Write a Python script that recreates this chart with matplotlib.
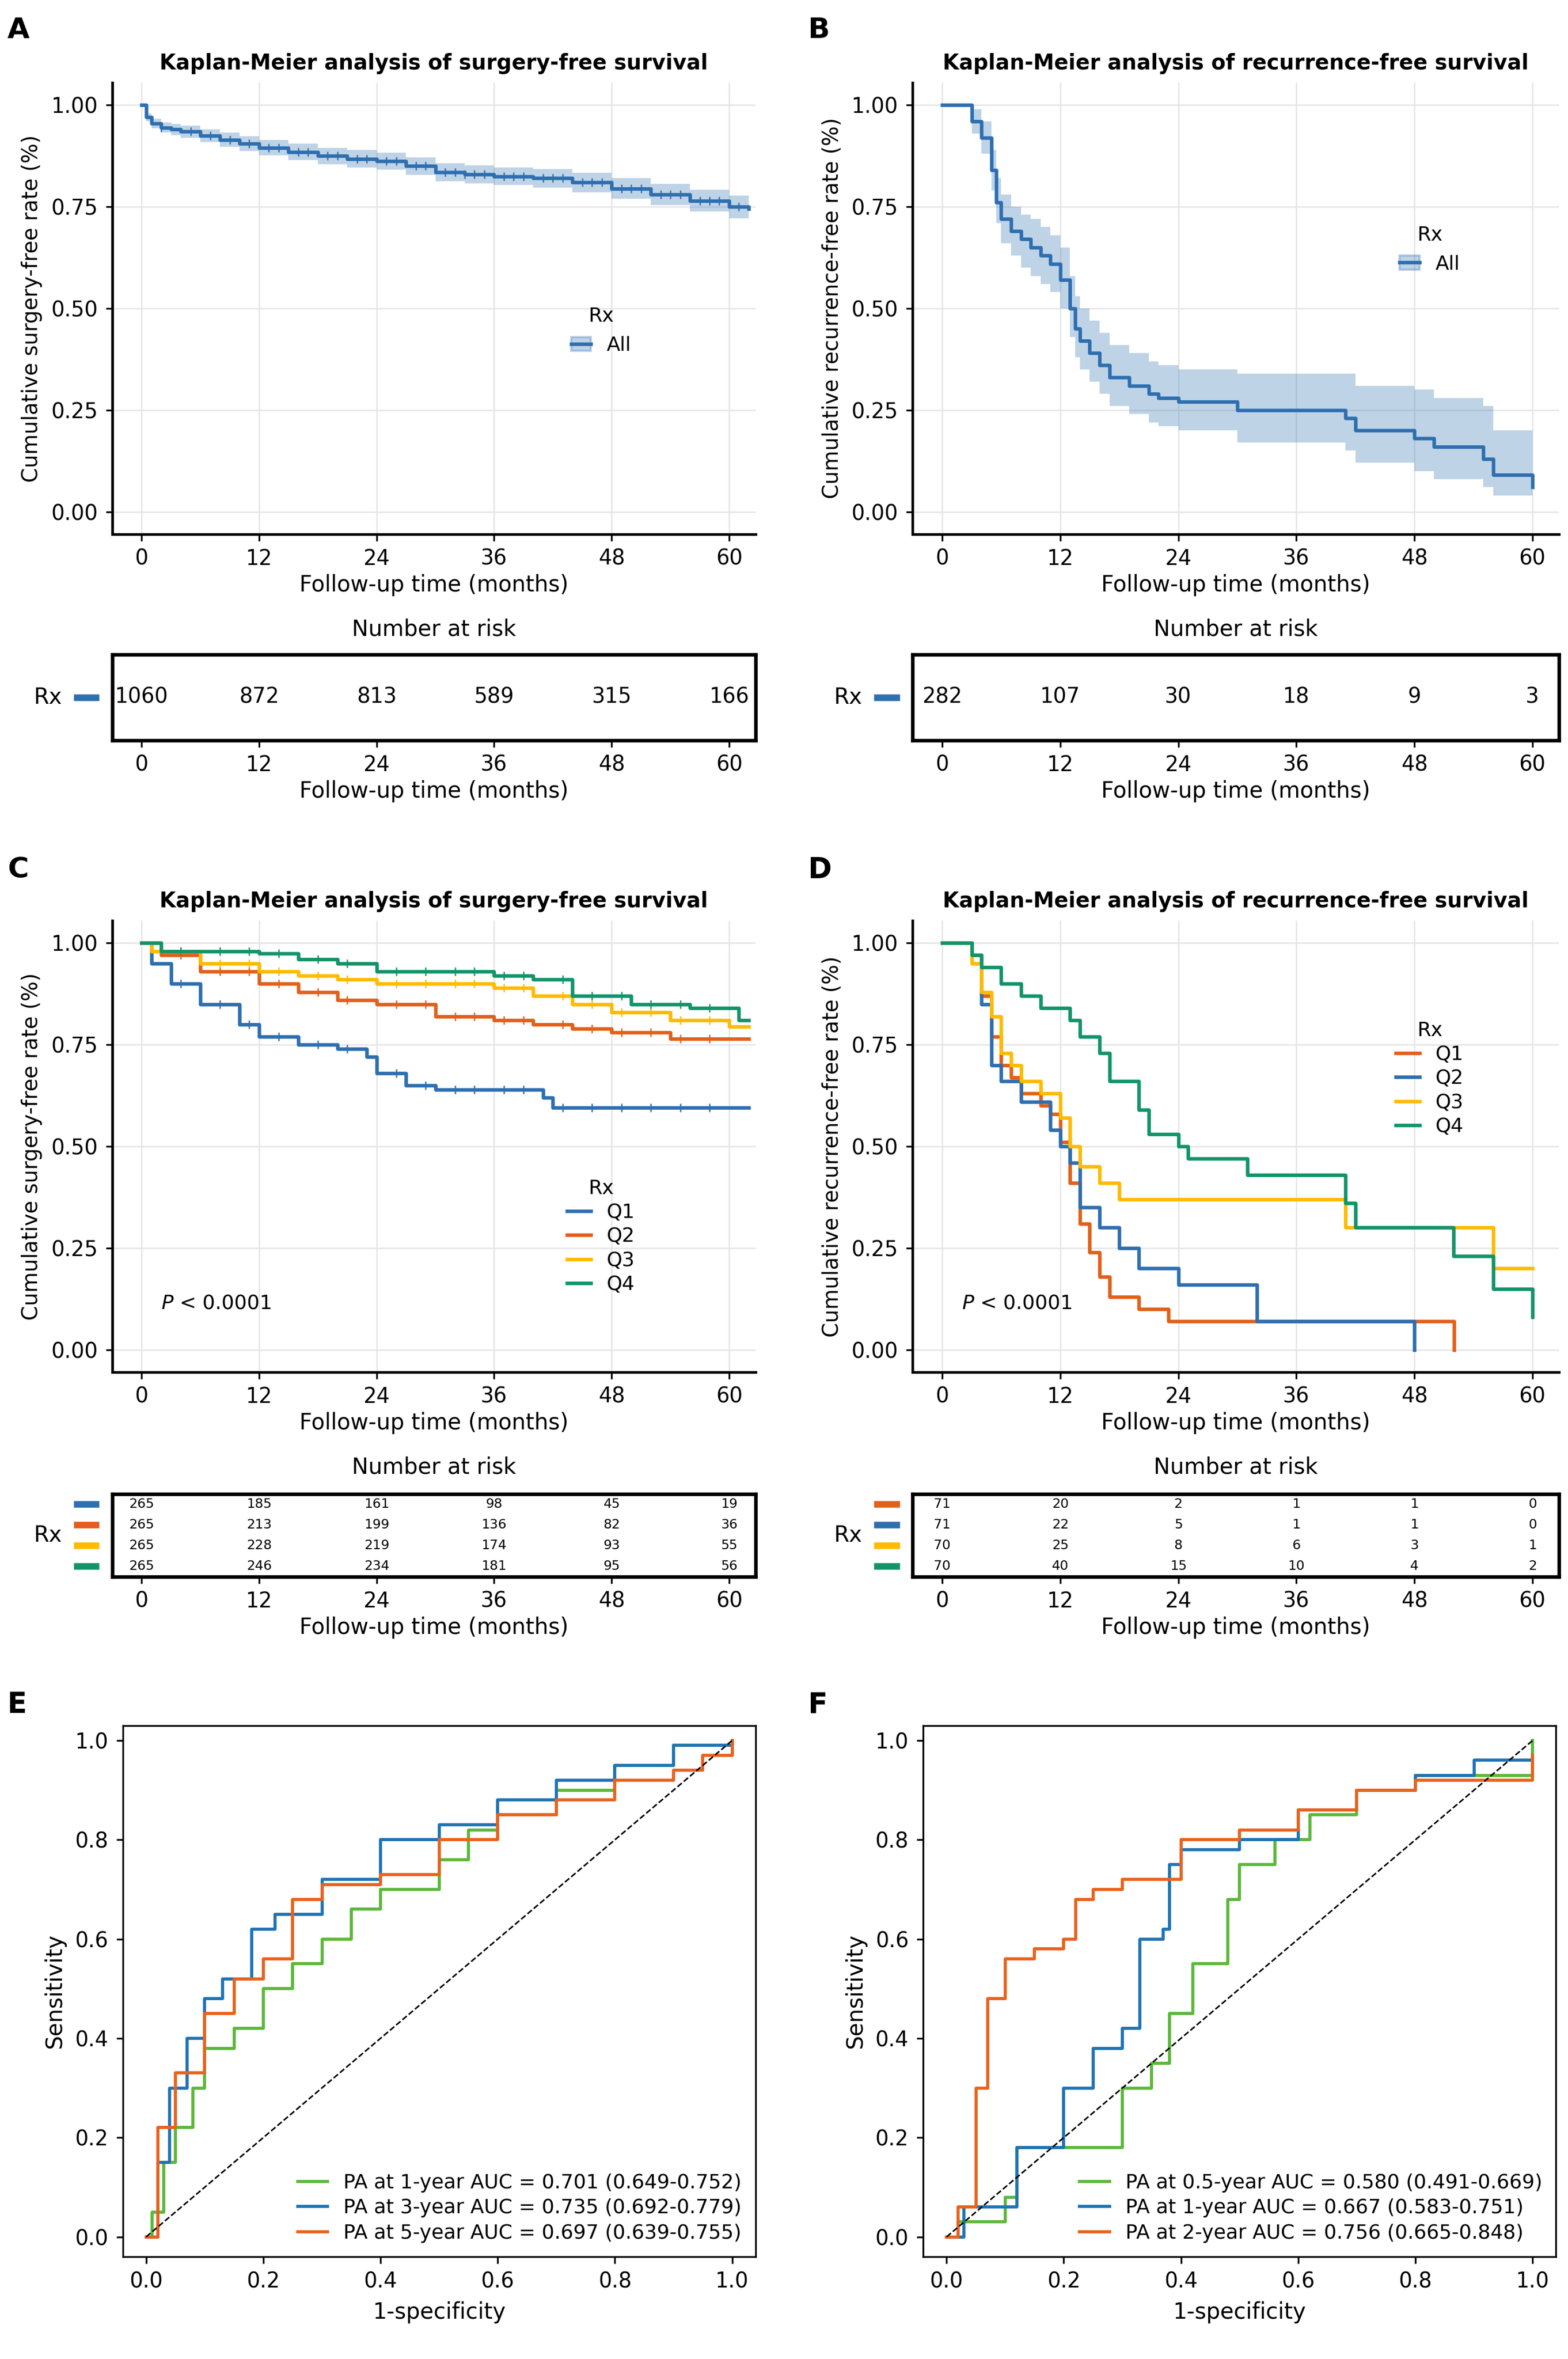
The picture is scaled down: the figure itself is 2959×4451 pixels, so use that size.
import numpy as np
import matplotlib
matplotlib.use("Agg")
import matplotlib.pyplot as plt
from matplotlib.patches import Patch
from matplotlib.lines import Line2D

plt.rcParams["font.family"] = ["DejaVu Sans"]
plt.rcParams["font.size"] = 8

BLUE = "#2e6fb0"
ORANGE = "#e2601a"
YELLOW = "#ffbb00"
GREEN = "#12946a"
ROC_GREEN = "#5cb83c"
ROC_BLUE = "#1f74b4"
ROC_ORANGE = "#ea621c"

# ---- data ----
a_t = [0, 0.5, 1, 2, 3, 4, 6, 8, 10, 12, 15, 18, 21, 24, 27, 30, 33, 36, 40, 44, 48, 52, 56, 60, 62]
a_s = [1, 0.97, 0.955, 0.945, 0.94, 0.935, 0.925, 0.915, 0.905, 0.895, 0.885, 0.875, 0.868, 0.862,
       0.85, 0.835, 0.83, 0.825, 0.82, 0.81, 0.795, 0.78, 0.765, 0.75, 0.745]
a_ci = [0, 0.01, 0.012, 0.013, 0.014, 0.015, 0.016, 0.017, 0.018, 0.019, 0.02, 0.02, 0.021, 0.021,
        0.022, 0.022, 0.022, 0.022, 0.023, 0.024, 0.025, 0.026, 0.027, 0.028, 0.028]
a_cens = [2, 5, 7, 9, 11, 13, 14, 16, 17, 19, 20, 22, 23, 25, 26, 28, 29, 31, 32, 33, 34, 35, 37, 38,
          39, 41, 42, 43, 45, 46, 47, 49, 50, 51, 53, 54, 55, 57, 58, 59, 61]

b_t = [0, 3, 4, 5, 5.5, 6, 7, 8, 9, 10, 11, 12, 13, 13.5, 14, 15, 16, 17, 19, 21, 22, 24, 30, 41, 42, 48, 50, 55, 56, 60]
b_s = [1.0, 0.96, 0.92, 0.84, 0.76, 0.72, 0.69, 0.67, 0.65, 0.63, 0.61, 0.57, 0.50, 0.45, 0.42, 0.39,
       0.36, 0.33, 0.31, 0.29, 0.28, 0.27, 0.25, 0.23, 0.20, 0.18, 0.16, 0.13, 0.09, 0.06]
b_lo = [1.0, 0.93, 0.88, 0.79, 0.71, 0.66, 0.63, 0.60, 0.58, 0.56, 0.54, 0.50, 0.43, 0.38, 0.35, 0.32,
        0.29, 0.26, 0.24, 0.22, 0.21, 0.20, 0.17, 0.15, 0.12, 0.10, 0.08, 0.06, 0.04, 0.03]
b_hi = [1.0, 0.99, 0.96, 0.89, 0.82, 0.78, 0.75, 0.73, 0.72, 0.70, 0.68, 0.65, 0.58, 0.53, 0.50, 0.47,
        0.44, 0.41, 0.39, 0.37, 0.36, 0.35, 0.34, 0.34, 0.31, 0.30, 0.28, 0.26, 0.20, 0.19]

c_curves = {
    "Q1": ([0, 1, 3, 6, 10, 12, 16, 20, 23, 24, 27, 30, 41, 42, 62],
           [1, 0.95, 0.90, 0.85, 0.80, 0.77, 0.75, 0.74, 0.72, 0.68, 0.65, 0.64, 0.62, 0.595, 0.595]),
    "Q2": ([0, 2, 6, 12, 16, 20, 24, 30, 36, 40, 44, 48, 54, 62],
           [1, 0.97, 0.93, 0.90, 0.88, 0.86, 0.85, 0.82, 0.81, 0.80, 0.79, 0.78, 0.765, 0.765]),
    "Q3": ([0, 1, 6, 12, 16, 20, 24, 36, 40, 44, 48, 54, 60, 62],
           [1, 0.98, 0.95, 0.93, 0.92, 0.91, 0.90, 0.89, 0.87, 0.85, 0.83, 0.81, 0.795, 0.795]),
    "Q4": ([0, 2, 12, 16, 20, 24, 36, 40, 44, 50, 56, 61, 62],
           [1, 0.98, 0.975, 0.96, 0.95, 0.93, 0.92, 0.91, 0.87, 0.85, 0.84, 0.81, 0.81]),
}
c_cens = [4, 8, 11, 14, 18, 21, 26, 29, 32, 34, 37, 39, 43, 46, 49, 52, 55, 58]

d_curves = {
    "Q1": ([0, 3, 4, 5, 6, 7, 8, 10, 11, 12, 13, 14, 15, 16, 17, 20, 23, 52, 52.01],
           [1, 0.97, 0.87, 0.77, 0.70, 0.67, 0.63, 0.60, 0.58, 0.51, 0.41, 0.31, 0.24, 0.18, 0.13, 0.10, 0.07, 0.07, 0.0]),
    "Q2": ([0, 3, 4, 5, 6, 8, 11, 12, 13, 14, 16, 18, 20, 24, 32, 48, 48.01],
           [1, 0.97, 0.85, 0.70, 0.66, 0.61, 0.54, 0.50, 0.46, 0.35, 0.30, 0.25, 0.20, 0.16, 0.07, 0.07, 0.0]),
    "Q3": ([0, 3, 4, 5, 6, 7, 8, 10, 12, 13, 14, 16, 18, 41, 56, 60],
           [1, 0.95, 0.88, 0.82, 0.73, 0.70, 0.66, 0.63, 0.57, 0.50, 0.45, 0.41, 0.37, 0.30, 0.20, 0.20]),
    "Q4": ([0, 3, 4, 6, 8, 10, 13, 14, 16, 17, 20, 21, 24, 25, 31, 41, 42, 52, 56, 60],
           [1, 0.97, 0.94, 0.90, 0.87, 0.84, 0.81, 0.77, 0.73, 0.66, 0.59, 0.53, 0.50, 0.47, 0.43, 0.36, 0.30, 0.23, 0.15, 0.08]),
}

c_colors = {"Q1": BLUE, "Q2": ORANGE, "Q3": YELLOW, "Q4": GREEN}
d_colors = {"Q1": ORANGE, "Q2": BLUE, "Q3": YELLOW, "Q4": GREEN}

risk_times = [0, 12, 24, 36, 48, 60]
a_risk = [1060, 872, 813, 589, 315, 166]
b_risk = [282, 107, 30, 18, 9, 3]
c_risk = [[265, 185, 161, 98, 45, 19], [265, 213, 199, 136, 82, 36],
          [265, 228, 219, 174, 93, 55], [265, 246, 234, 181, 95, 56]]
d_risk = [[71, 20, 2, 1, 1, 0], [71, 22, 5, 1, 1, 0],
          [70, 25, 8, 6, 3, 1], [70, 40, 15, 10, 4, 2]]

e_roc = [
    ("PA at 1-year AUC = 0.701 (0.649-0.752)", ROC_GREEN,
     [0, 0.01, 0.03, 0.05, 0.08, 0.1, 0.15, 0.2, 0.25, 0.3, 0.35, 0.4, 0.5, 0.55, 0.6, 0.7, 0.8, 0.9, 1],
     [0, 0.05, 0.15, 0.22, 0.30, 0.38, 0.42, 0.5, 0.55, 0.60, 0.66, 0.70, 0.76, 0.82, 0.85, 0.90, 0.95, 0.99, 1]),
    ("PA at 3-year AUC = 0.735 (0.692-0.779)", ROC_BLUE,
     [0, 0.02, 0.04, 0.07, 0.1, 0.13, 0.18, 0.22, 0.3, 0.4, 0.5, 0.6, 0.7, 0.8, 0.9, 1],
     [0, 0.15, 0.3, 0.4, 0.48, 0.52, 0.62, 0.65, 0.72, 0.80, 0.83, 0.88, 0.92, 0.95, 0.99, 1]),
    ("PA at 5-year AUC = 0.697 (0.639-0.755)", ROC_ORANGE,
     [0, 0.02, 0.05, 0.1, 0.15, 0.2, 0.25, 0.3, 0.4, 0.5, 0.6, 0.7, 0.8, 0.9, 0.95, 1],
     [0, 0.22, 0.33, 0.45, 0.52, 0.56, 0.68, 0.71, 0.73, 0.80, 0.85, 0.88, 0.92, 0.94, 0.97, 1]),
]
f_roc = [
    ("PA at 0.5-year AUC = 0.580 (0.491-0.669)", ROC_GREEN,
     [0, 0.02, 0.06, 0.1, 0.12, 0.25, 0.3, 0.35, 0.38, 0.42, 0.48, 0.5, 0.56, 0.62, 0.7, 0.8, 1],
     [0, 0.03, 0.03, 0.08, 0.18, 0.18, 0.3, 0.35, 0.45, 0.55, 0.68, 0.75, 0.80, 0.85, 0.90, 0.93, 1]),
    ("PA at 1-year AUC = 0.667 (0.583-0.751)", ROC_BLUE,
     [0, 0.03, 0.1, 0.12, 0.2, 0.25, 0.3, 0.33, 0.37, 0.38, 0.4, 0.5, 0.6, 0.7, 0.8, 0.9, 1],
     [0, 0.06, 0.06, 0.18, 0.3, 0.38, 0.42, 0.60, 0.62, 0.75, 0.78, 0.80, 0.86, 0.90, 0.93, 0.96, 0.97]),
    ("PA at 2-year AUC = 0.756 (0.665-0.848)", ROC_ORANGE,
     [0, 0.02, 0.05, 0.07, 0.1, 0.15, 0.2, 0.22, 0.25, 0.3, 0.4, 0.5, 0.6, 0.7, 0.8, 1],
     [0, 0.06, 0.3, 0.48, 0.56, 0.58, 0.6, 0.68, 0.70, 0.72, 0.80, 0.82, 0.86, 0.90, 0.92, 0.97]),
]

# ---- layout helpers (reference pixel coords, 1048x1568 preview) ----
W, H = 1048.0, 1568.0
fig = plt.figure(figsize=(2959 / 300, 4451 / 300), dpi=300)


def box(x0, y0, x1, y1):
    return fig.add_axes([x0 / W, 1 - y1 / H, (x1 - x0) / W, (y1 - y0) / H])


def letter(s, x, y):
    fig.text(x / W, 1 - y / H, s, fontsize=13, fontweight="bold", va="center", ha="left")


def surv_at(ts, ss, t):
    idx = np.searchsorted(ts, t, side="right") - 1
    return np.asarray(ss)[idx]


def km_axes(ax, title, ylabel):
    ax.set_xlim(-3, 62.7)
    ax.set_ylim(-0.055, 1.055)
    ax.set_xticks(risk_times)
    ax.set_yticks([0, 0.25, 0.5, 0.75, 1.0])
    ax.set_yticklabels(["0.00", "0.25", "0.50", "0.75", "1.00"])
    ax.grid(True, color="#e4e4e4", lw=0.6)
    ax.set_axisbelow(True)
    for s in ["top", "right"]:
        ax.spines[s].set_visible(False)
    ax.spines["left"].set_linewidth(1.2)
    ax.spines["bottom"].set_linewidth(1.2)
    ax.tick_params(labelsize=9.5, length=3)
    ax.set_title(title, fontsize=9.5, fontweight="bold", pad=6)
    ax.set_ylabel(ylabel, fontsize=9.5)
    ax.set_xlabel("Follow-up time (months)", fontsize=10, labelpad=2)
    ax.text(0.5, -0.225, "Number at risk", transform=ax.transAxes, ha="center", fontsize=10)


def risk_table(ax, rows, colors, small):
    ax.set_xlim(-3, 62.7)
    n = len(rows)
    ax.set_ylim(-0.5, n - 0.5)
    ax.invert_yaxis()
    ax.set_xticks(risk_times)
    ax.set_yticks([])
    for s in ax.spines.values():
        s.set_linewidth(1.6)
    ax.tick_params(labelsize=9.5, length=3)
    ax.set_xlabel("Follow-up time (months)", fontsize=10, labelpad=2)
    for i, (row, c) in enumerate(zip(rows, colors)):
        for t, v in zip(risk_times, row):
            ax.text(t, i, str(v), ha="center", va="center", fontsize=6 if small else 9.5)
        ax.plot([-0.06, -0.02], [i, i], transform=ax.get_yaxis_transform(), color=c, lw=3,
                clip_on=False, solid_capstyle="butt")
    ax.text(-0.1, 0.5, "Rx", transform=ax.transAxes, ha="center", va="center", fontsize=10)


# ---- Panel A ----
ax = box(75, 55, 505, 355)
km_axes(ax, "Kaplan-Meier analysis of surgery-free survival", "Cumulative surgery-free rate (%)")
ax.fill_between(a_t, np.array(a_s) - a_ci, np.array(a_s) + a_ci, step="post", color=BLUE, alpha=0.3, lw=0)
ax.step(a_t, a_s, where="post", color=BLUE, lw=1.6)
ax.plot(a_cens, surv_at(a_t, a_s, a_cens), "|", color=BLUE, ms=4, mew=0.6)
h = (Patch(color=BLUE, alpha=0.3), Line2D([], [], color=BLUE, lw=1.6))
ax.legend([h], ["All"], title="Rx", loc="center", bbox_to_anchor=(0.76, 0.45), frameon=False,
          fontsize=9, title_fontsize=9, handlelength=1.0)
risk_table(box(75, 435, 505, 492), [a_risk], [BLUE], False)
letter("A", 5, 20)

# ---- Panel B ----
ax = box(610, 55, 1042, 355)
km_axes(ax, "Kaplan-Meier analysis of recurrence-free survival", "Cumulative recurrence-free rate (%)")
ax.fill_between(b_t, b_lo, b_hi, step="post", color=BLUE, alpha=0.3, lw=0)
ax.step(b_t, b_s, where="post", color=BLUE, lw=1.6)
ax.legend([h], ["All"], title="Rx", loc="center", bbox_to_anchor=(0.8, 0.63), frameon=False,
          fontsize=9, title_fontsize=9, handlelength=1.0)
risk_table(box(610, 435, 1042, 492), [b_risk], [BLUE], False)
letter("B", 540, 20)

# ---- Panel C ----
ax = box(75, 612, 505, 912)
km_axes(ax, "Kaplan-Meier analysis of surgery-free survival", "Cumulative surgery-free rate (%)")
for q, (ts, ss) in c_curves.items():
    ax.step(ts, ss, where="post", color=c_colors[q], lw=1.6, label=q)
    ax.plot(c_cens, surv_at(ts, ss, c_cens), "|", color=c_colors[q], ms=4, mew=0.6)
ax.legend(title="Rx", loc="center", bbox_to_anchor=(0.76, 0.3), frameon=False, fontsize=9,
          title_fontsize=9, handlelength=1.2, labelspacing=0.25)
ax.text(2, 0.1, "$P$ < 0.0001", fontsize=9)
risk_table(box(75, 993, 505, 1048), c_risk, [BLUE, ORANGE, YELLOW, GREEN], True)
letter("C", 5, 578)

# ---- Panel D ----
ax = box(610, 612, 1042, 912)
km_axes(ax, "Kaplan-Meier analysis of recurrence-free survival", "Cumulative recurrence-free rate (%)")
for q in ["Q1", "Q2", "Q3", "Q4"]:
    ts, ss = d_curves[q]
    ax.step(ts, ss, where="post", color=d_colors[q], lw=1.6, label=q)
ax.legend(title="Rx", loc="center", bbox_to_anchor=(0.8, 0.65), frameon=False, fontsize=9,
          title_fontsize=9, handlelength=1.2, labelspacing=0.25)
ax.text(2, 0.1, "$P$ < 0.0001", fontsize=9)
risk_table(box(610, 993, 1042, 1048), d_risk, [ORANGE, BLUE, YELLOW, GREEN], True)
letter("D", 540, 578)


# ---- Panels E, F ----
def roc_axes(ax, curves):
    for lab, col, fpr, tpr in curves:
        ax.step(fpr, tpr, where="post", color=col, lw=1.4, label=lab)
    ax.plot([0, 1], [0, 1], "k--", lw=0.7)
    ax.set_xlim(-0.04, 1.04)
    ax.set_ylim(-0.04, 1.03)
    ax.set_xticks(np.arange(0, 1.01, 0.2))
    ax.set_yticks(np.arange(0, 1.01, 0.2))
    ax.tick_params(labelsize=9.5, length=3)
    ax.set_xlabel("1-specificity", fontsize=10)
    ax.set_ylabel("Sensitivity", fontsize=10)
    ax.legend(loc="lower right", frameon=False, fontsize=9, handlelength=1.5, borderaxespad=0.3,
              labelspacing=0.3)


roc_axes(box(82, 1147, 505, 1500), e_roc)
letter("E", 5, 1133)
roc_axes(box(617, 1147, 1040, 1500), f_roc)
letter("F", 540, 1133)

fig.savefig("out.png", dpi=300)
